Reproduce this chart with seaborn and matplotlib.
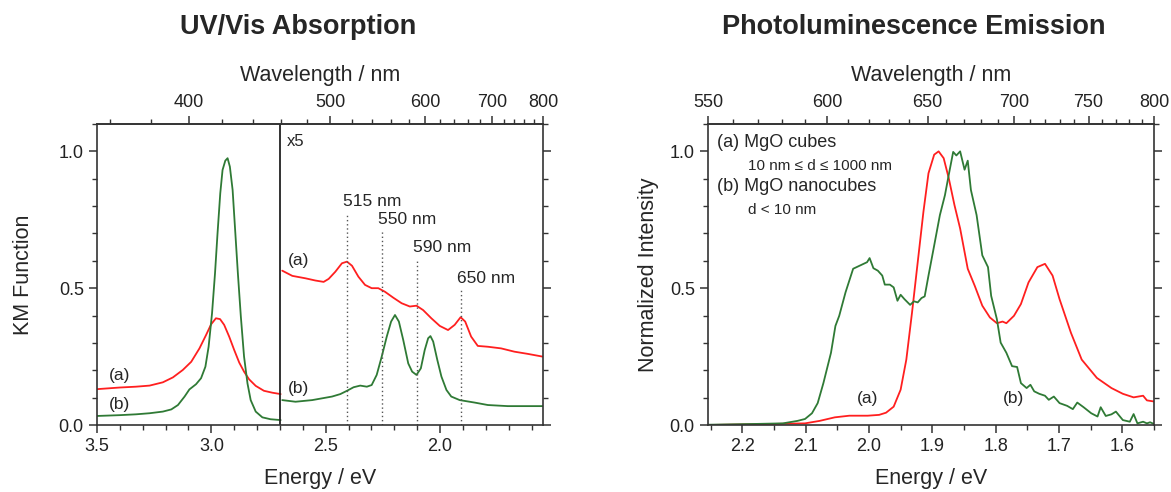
import numpy as np
import pandas as pd
import matplotlib
matplotlib.use("Agg")
import matplotlib.pyplot as plt
from matplotlib.ticker import MultipleLocator, FixedLocator, NullFormatter
import seaborn as sns

# --- données ---
HC = 1239.84  # eV·nm

# UV/Vis (a) cubes, zone 3.5 - 2.7 eV
uv_a_e1 = [3.50, 3.40, 3.33, 3.270, 3.212, 3.168, 3.125, 3.088, 3.052, 3.023, 3.001, 2.980, 2.962, 2.944,
           2.922, 2.900, 2.878, 2.857, 2.835, 2.806, 2.770, 2.733, 2.697]
uv_a_y1 = [0.131, 0.137, 0.140, 0.144, 0.156, 0.174, 0.201, 0.231, 0.280, 0.329, 0.368, 0.390, 0.387, 0.366,
           0.323, 0.274, 0.228, 0.195, 0.167, 0.143, 0.125, 0.118, 0.113]
# UV/Vis (b) nanocubes, zone 3.5 - 2.7 eV
uv_b_e1 = [3.50, 3.40, 3.33, 3.270, 3.212, 3.175, 3.146, 3.117, 3.096, 3.067, 3.045, 3.026, 3.012, 2.997,
           2.984, 2.973, 2.961, 2.951, 2.939, 2.929, 2.919, 2.907, 2.896, 2.884, 2.871, 2.857, 2.842, 2.828,
           2.806, 2.777, 2.741, 2.697]
uv_b_y1 = [0.033, 0.036, 0.039, 0.043, 0.049, 0.057, 0.073, 0.104, 0.130, 0.149, 0.171, 0.213, 0.286, 0.408,
           0.554, 0.700, 0.847, 0.932, 0.966, 0.975, 0.944, 0.859, 0.713, 0.554, 0.396, 0.250, 0.152, 0.091,
           0.049, 0.028, 0.021, 0.018]
# zone x5 (2.7 - 1.55 eV)
uv_a_e2 = [2.690, 2.646, 2.588, 2.545, 2.509, 2.487, 2.458, 2.429, 2.407, 2.385, 2.357, 2.328, 2.299, 2.270,
           2.241, 2.204, 2.168, 2.132, 2.103, 2.074, 2.038, 2.001, 1.965, 1.936, 1.910, 1.890, 1.864, 1.835,
           1.791, 1.733, 1.675, 1.617, 1.552]
uv_a_y2 = [0.564, 0.545, 0.536, 0.528, 0.523, 0.534, 0.560, 0.591, 0.597, 0.582, 0.542, 0.512, 0.500, 0.500,
           0.487, 0.465, 0.445, 0.433, 0.436, 0.420, 0.390, 0.362, 0.347, 0.366, 0.394, 0.378, 0.323, 0.289,
           0.286, 0.280, 0.268, 0.260, 0.250]
uv_b_e2 = [2.690, 2.632, 2.559, 2.472, 2.436, 2.407, 2.378, 2.349, 2.320, 2.299, 2.277, 2.255, 2.233, 2.214,
           2.197, 2.180, 2.161, 2.139, 2.122, 2.103, 2.084, 2.067, 2.052, 2.042, 2.030, 2.012, 1.994, 1.972,
           1.951, 1.914, 1.849, 1.791, 1.704, 1.552]
uv_b_y2 = [0.091, 0.085, 0.091, 0.104, 0.113, 0.125, 0.138, 0.144, 0.140, 0.146, 0.183, 0.250, 0.323, 0.378,
           0.402, 0.378, 0.311, 0.225, 0.195, 0.183, 0.207, 0.274, 0.317, 0.325, 0.305, 0.238, 0.177, 0.128,
           0.104, 0.091, 0.082, 0.073, 0.069, 0.069]

peak_nm = [515, 550, 590, 650]
peak_top = [0.774, 0.709, 0.607, 0.493]

# PL (a) cubes
pl_a_e = [2.254, 2.148, 2.101, 2.078, 2.054, 2.031, 2.002, 1.984, 1.973, 1.961, 1.95, 1.941, 1.932, 1.923,
          1.914, 1.906, 1.897, 1.89, 1.882, 1.874, 1.865, 1.856, 1.844, 1.833, 1.821, 1.809, 1.798, 1.789,
          1.783, 1.771, 1.76, 1.748, 1.734, 1.722, 1.71, 1.699, 1.681, 1.664, 1.64, 1.617, 1.599, 1.582,
          1.567, 1.561, 1.55]
pl_a_y = [0.0, 0.004, 0.006, 0.015, 0.028, 0.034, 0.034, 0.037, 0.045, 0.067, 0.129, 0.239, 0.411, 0.595,
          0.779, 0.92, 0.988, 1.0, 0.975, 0.902, 0.804, 0.718, 0.571, 0.509, 0.436, 0.393, 0.372, 0.378,
          0.372, 0.399, 0.442, 0.521, 0.577, 0.589, 0.546, 0.46, 0.337, 0.239, 0.172, 0.135, 0.114, 0.101,
          0.107, 0.09, 0.086]
# PL (b) nanocubes
pl_b_e = [2.254, 2.177, 2.136, 2.113, 2.101, 2.09, 2.081, 2.072, 2.06, 2.053, 2.047, 2.037, 2.025, 2.014,
          2.003, 1.999, 1.993, 1.986, 1.979, 1.975, 1.967, 1.961, 1.955, 1.95, 1.944, 1.935, 1.929, 1.923,
          1.917, 1.912, 1.906, 1.897, 1.888, 1.88, 1.874, 1.867, 1.862, 1.856, 1.849, 1.844, 1.839, 1.83,
          1.821, 1.812, 1.807, 1.798, 1.792, 1.783, 1.774, 1.766, 1.76, 1.751, 1.745, 1.739, 1.731, 1.722,
          1.716, 1.708, 1.699, 1.687, 1.678, 1.671, 1.661, 1.649, 1.639, 1.634, 1.626, 1.617, 1.61, 1.599,
          1.588, 1.582, 1.576, 1.567, 1.561, 1.556, 1.55]
pl_b_y = [0.001, 0.004, 0.006, 0.015, 0.022, 0.043, 0.08, 0.153, 0.264, 0.362, 0.399, 0.485, 0.571, 0.583,
          0.595, 0.61, 0.573, 0.564, 0.546, 0.513, 0.513, 0.503, 0.454, 0.476, 0.46, 0.439, 0.452, 0.448,
          0.464, 0.47, 0.546, 0.656, 0.767, 0.84, 0.914, 0.998, 0.985, 1.0, 0.933, 0.966, 0.859, 0.767,
          0.62, 0.577, 0.472, 0.387, 0.301, 0.264, 0.215, 0.212, 0.153, 0.135, 0.147, 0.123, 0.114, 0.107,
          0.092, 0.104, 0.08, 0.07, 0.058, 0.082, 0.065, 0.043, 0.031, 0.065, 0.033, 0.039, 0.049, 0.018,
          0.012, 0.04, 0.006, 0.012, 0.006, 0.01, 0.004]

ROUGE = "#ff1f1f"
VERT = "#2f7a35"

sns.set_style("ticks")
plt.rcParams["font.family"] = ["Liberation Sans", "DejaVu Sans"]
plt.rcParams.update({
    "axes.edgecolor": "#333333",
    "axes.linewidth": 1.2,
    "xtick.color": "#333333",
    "ytick.color": "#333333",
    "xtick.labelcolor": "#222222",
    "ytick.labelcolor": "#222222",
    "xtick.major.size": 6, "ytick.major.size": 6,
    "xtick.minor.size": 3.5, "ytick.minor.size": 3.5,
    "xtick.major.width": 1.1, "ytick.major.width": 1.1,
    "xtick.minor.width": 1.0, "ytick.minor.width": 1.0,
    "xtick.labelsize": 13, "ytick.labelsize": 13,
})


def ev_nm(x):
    x = np.asarray(x, dtype=float)
    with np.errstate(divide="ignore", invalid="ignore"):
        return HC / x


def courbe(ax, e, y, couleur):
    df = pd.DataFrame({"E": e, "I": y})
    sns.lineplot(data=df, x="E", y="I", ax=ax, color=couleur, lw=1.3, sort=False)


def habiller(ax, xlim, xmaj, xmin, nm_maj, nm_min, ylabelpad):
    ax.set_xlim(*xlim)
    ax.set_ylim(0, 1.1)
    ax.xaxis.set_major_locator(MultipleLocator(xmaj))
    ax.xaxis.set_minor_locator(MultipleLocator(xmin))
    ax.yaxis.set_major_locator(MultipleLocator(0.5))
    ax.yaxis.set_minor_locator(MultipleLocator(0.1))
    ax.tick_params(which="both", direction="out", right=True, labelright=False)
    ax.set_xlabel("Energy / eV", fontsize=15.5, labelpad=9)
    ax.yaxis.labelpad = ylabelpad
    sec = ax.secondary_xaxis("top", functions=(ev_nm, ev_nm))
    sec.xaxis.set_major_locator(FixedLocator(nm_maj))
    sec.xaxis.set_minor_locator(FixedLocator(nm_min))
    sec.xaxis.set_minor_formatter(NullFormatter())
    sec.tick_params(which="both", direction="out")
    sec.set_xlabel("Wavelength / nm", fontsize=15.5, labelpad=9)
    for s in ax.spines.values():
        s.set_visible(True)
    return sec


fig = plt.figure(figsize=(11.71, 4.92), dpi=100)
ax1 = fig.add_axes([97 / 1171, 67 / 492, 446 / 1171, 301 / 492])
ax2 = fig.add_axes([708 / 1171, 67 / 492, 446 / 1171, 301 / 492])

# --- UV/Vis ---
courbe(ax1, uv_a_e1, uv_a_y1, ROUGE)
courbe(ax1, uv_b_e1, uv_b_y1, VERT)
courbe(ax1, uv_a_e2, uv_a_y2, ROUGE)
courbe(ax1, uv_b_e2, uv_b_y2, VERT)
ax1.axvline(2.7, color="#222222", lw=1.3)
for nm, top in zip(peak_nm, peak_top):
    e = HC / nm
    ax1.vlines(e, 0, top, colors="#555555", linestyles=(0, (1, 2)), lw=1.0)
    ax1.annotate(f"{nm} nm", (e, top), xytext=(-3, 3), textcoords="offset points",
                 ha="left", va="bottom", fontsize=12.5)
ax1.text(2.672, 1.035, "x5", fontsize=12, ha="left", va="center")
ax1.text(3.45, 0.18, "(a)", fontsize=12.5, ha="left", va="center")
ax1.text(3.45, 0.075, "(b)", fontsize=12.5, ha="left", va="center")
ax1.text(2.665, 0.60, "(a)", fontsize=12.5, ha="left", va="center")
ax1.text(2.665, 0.135, "(b)", fontsize=12.5, ha="left", va="center")
ax1.set_ylabel("KM Function", fontsize=15.5)
habiller(ax1, (3.5, HC / 800), 0.5, 0.1,
         [400, 500, 600, 700, 800],
         [360, 380, 420, 440, 460, 480, 520, 540, 560, 580, 620, 640, 660, 680, 720, 740, 760, 780],
         18)

# --- PL ---
courbe(ax2, pl_a_e, pl_a_y, ROUGE)
courbe(ax2, pl_b_e, pl_b_y, VERT)
ax2.text(2.002, 0.098, "(a)", fontsize=12.5, ha="center", va="center")
ax2.text(1.771, 0.098, "(b)", fontsize=12.5, ha="center", va="center")
ax2.text(2.240, 1.034, "(a) MgO cubes", fontsize=13, ha="left", va="center")
ax2.text(2.191, 0.948, "10 nm \u2264 d \u2264 1000 nm", fontsize=11, ha="left", va="center")
ax2.text(2.240, 0.871, "(b) MgO nanocubes", fontsize=13, ha="left", va="center")
ax2.text(2.191, 0.785, "d < 10 nm", fontsize=11, ha="left", va="center")
ax2.set_ylabel("Normalized Intensity", fontsize=15.5)
habiller(ax2, (HC / 550, HC / 800), 0.1, 0.05,
         [550, 600, 650, 700, 750, 800],
         [n for n in range(560, 800, 10) if n % 50 != 0],
         8)

fig.text(298 / 1171, 1 - 27 / 492, "UV/Vis Absorption", fontsize=19.5, fontweight="bold",
         ha="center", va="center")
fig.text(914 / 1171, 1 - 27 / 492, "Photoluminescence Emission", fontsize=19.5, fontweight="bold",
         ha="center", va="center")

fig.savefig("out.png", dpi=100)
